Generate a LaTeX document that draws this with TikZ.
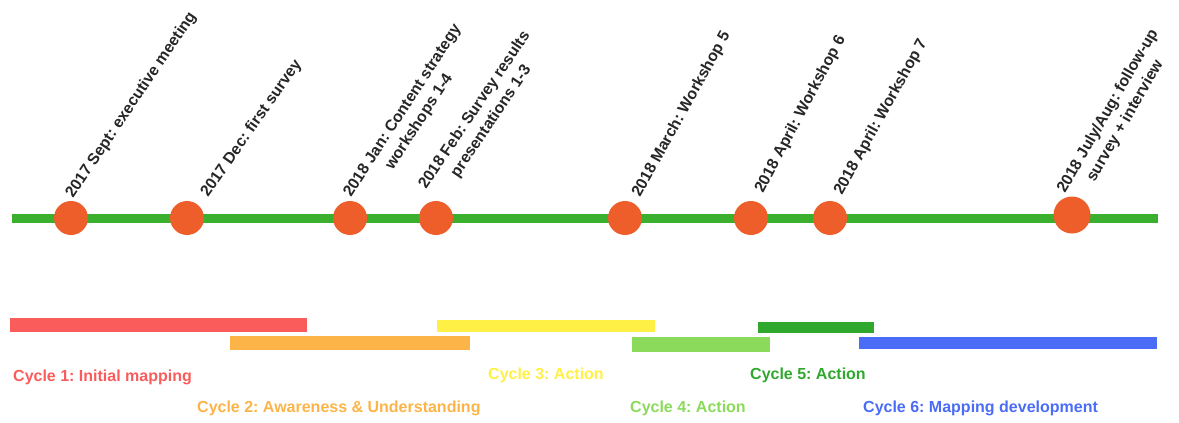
\documentclass[tikz,border=0pt]{standalone}
\usepackage{fontspec}
\setmainfont{Liberation Sans}
\usetikzlibrary{positioning}
\frenchspacing

\definecolor{lineGreen}{RGB}{58,176,46}
\definecolor{dotOrange}{RGB}{238,94,43}
\definecolor{cycRed}{RGB}{250,92,92}
\definecolor{cycOrange}{RGB}{252,180,72}
\definecolor{cycYellow}{RGB}{255,240,70}
\definecolor{cycLime}{RGB}{140,218,92}
\definecolor{cycGreen}{RGB}{48,168,46}
\definecolor{cycBlue}{RGB}{74,108,247}

\tikzset{
  event/.style={circle, fill=dotOrange, minimum size=34pt, inner sep=0pt},
  datelabel/.style={anchor=base west, inner sep=0pt, align=center, text=black!85,
    font=\fontsize{15.8}{20}\selectfont\bfseries},
  twolines/.style={yshift=-20pt},
  cyclelabel/.style={anchor=base west, inner sep=0pt,
    font=\fontsize{16}{19}\selectfont\bfseries},
}

\begin{document}
\begin{tikzpicture}[x=1pt, y=-1pt]
  \useasboundingbox (0,0) rectangle (1179,423);

  \draw [line width=9pt, color=lineGreen] (12,218) -- (1158,218);

  \node [event] (e1) at (71,218) {};
  \node [event] (e2) at (187,218) {};
  \node [event] (e3) at (350,218) {};
  \node [event] (e4) at (436,218) {};
  \node [event] (e5) at (625,218) {};
  \node [event] (e6) at (751,218) {};
  \node [event] (e7) at (830,218) {};
  \node [event, minimum size=37pt] (e8) at (1072,215) {};

  \node [datelabel, xshift=2pt, yshift=19pt, rotate=56] (d1) at (e1) {2017 Sept: executive meeting};
  \node [datelabel, xshift=21pt, yshift=20pt, rotate=55] (d2) at (e2) {2017 Dec: first survey};
  \node [datelabel, xshift=1pt, yshift=20pt, rotate=57, twolines] (d3) at (e3) {2018 Jan: Content strategy\\workshops 1-4};
  \node [datelabel, xshift=-10pt, yshift=28pt, rotate=56, twolines] (d4) at (e4) {2018 Feb: Survey results\\presentations 1-3};
  \node [datelabel, xshift=15pt, yshift=20pt, rotate=61] (d5) at (e5) {2018 March: Workshop 5};
  \node [datelabel, xshift=12pt, yshift=24pt, rotate=62] (d6) at (e6) {2018 April: Workshop 6};
  \node [datelabel, xshift=12pt, yshift=22pt, rotate=61] (d7) at (e7) {2018 April: Workshop 7};
  \node [datelabel, xshift=-7pt, yshift=21pt, rotate=60, twolines] (d8) at (e8) {2018 July/Aug: follow-up\\survey + interview};

  \fill [cycRed] (10,318) rectangle (307,332);
  \fill [cycOrange] (230,336) rectangle (470,350);
  \fill [cycYellow] (437,320) rectangle (655,332);
  \fill [cycLime] (632,337) rectangle (770,352);
  \fill [cycGreen] (758,322) rectangle (874,333);
  \fill [cycBlue] (859,337) rectangle (1157,349);

  \node [cyclelabel, text=cycRed] (c1) at (13,381) {Cycle 1: Initial mapping};
  \node [cyclelabel, text=cycOrange] (c2) at (197,412) {Cycle 2: Awareness \& Understanding};
  \node [cyclelabel, text=cycYellow] (c3) at (488,379) {Cycle 3: Action};
  \node [cyclelabel, text=cycLime] (c4) at (630,412) {Cycle 4: Action};
  \node [cyclelabel, text=cycGreen] (c5) at (750,379) {Cycle 5: Action};
  \node [cyclelabel, text=cycBlue] (c6) at (863,412) {Cycle 6: Mapping development};
\end{tikzpicture}
\end{document}
